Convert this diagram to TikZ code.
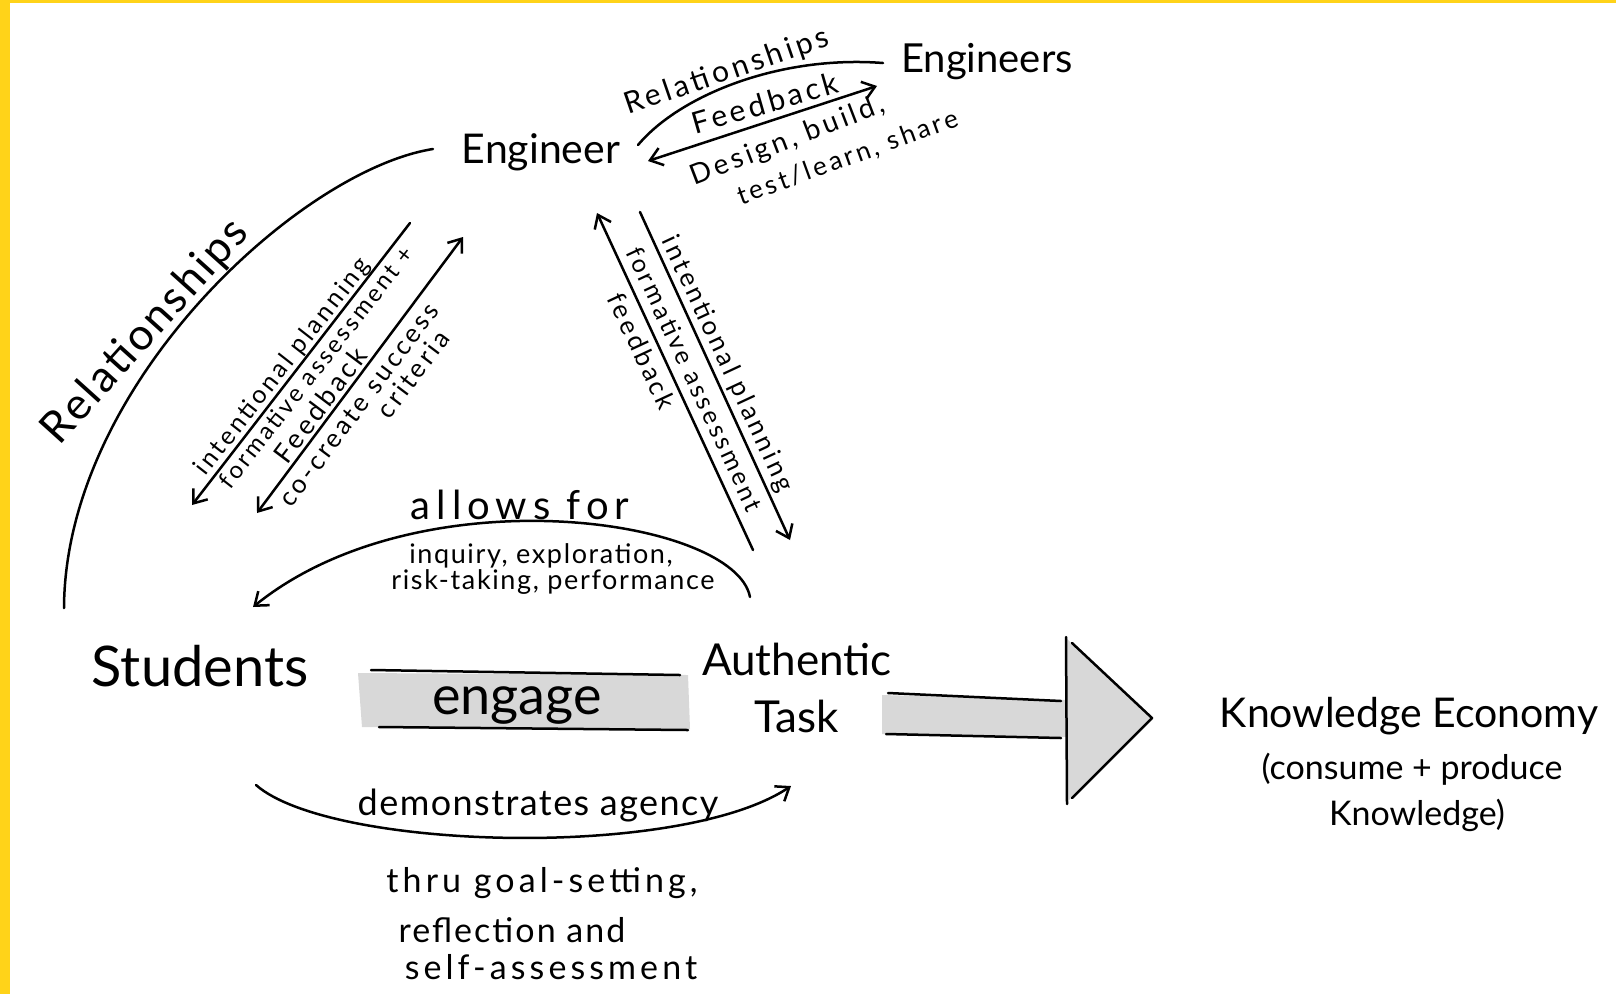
\documentclass[tikz,border=0pt]{standalone}
\usepackage{fontspec}
\setmainfont{Lato}
\newfontfamily\hand[LetterSpace=12]{Lato}
\newfontfamily\handB[LetterSpace=6]{Lato}
\usetikzlibrary{arrows.meta}
\definecolor{framey}{RGB}{255,211,25}
\definecolor{pencil}{RGB}{216,216,216}
\newcommand\fsz[1]{\fontsize{#1}{#1}\selectfont}
\begin{document}
\begin{tikzpicture}[x=1pt,y=-1pt,
  ink/.style={draw=black,line width=2.5pt,line cap=round,line join=round},
  tipE/.style={-{Straight Barb[length=12pt,width=18pt]}},
  tipB/.style={{Straight Barb[length=12pt,width=18pt]}-{Straight Barb[length=12pt,width=18pt]}},
  lbl/.style={inner sep=0pt,text=black},
  hw/.style={lbl,font=\hand\fsz{#1}},
  hwb/.style={lbl,font=\handB\fsz{#1}}]
\useasboundingbox (0,0) rectangle (1616,994);
\fill[white] (0,0) rectangle (1616,994);
\fill[framey] (0,0) rectangle (10,994);
\fill[framey] (0,0) rectangle (1616,3);

% main nodes
\node[lbl,font=\fsz{41}] (eng) at (541,152) {Engineer};
\node[lbl,font=\fsz{40}] (engs) at (987,62) {Engineers};
\node[lbl,font=\fsz{56}] (stu) at (200,666) {Students};
\node[lbl,font=\fsz{44},align=center] (task) at (797,688) {Authentic\\[13pt]Task};
\node[lbl,font=\fsz{41}] (ke1) at (1409,716) {Knowledge Economy};
\node[lbl,font=\fsz{34}] (ke2) at (1412,769) {(consume + produce};
\node[lbl,font=\fsz{34}] (ke3) at (1417,815) {Knowledge)};

% engage band
\fill[pencil] (358,673) -- (688,675) -- (690,729) -- (362,727) -- cycle;
\draw[ink] (371,670) -- (680,675);
\draw[ink] (379,727) -- (688,730);
\node[lbl,font=\fsz{54}] (engage) at (517,705) {engage};

% big shaded arrow to Knowledge Economy
\coordinate (shA) at (888,693);
\coordinate (tipK) at (1152,718);
\fill[pencil] (882,695) -- (1067,700) -- (1067,639) -- (tipK) -- (1067,802) -- (1067,737) -- (882,734) -- cycle;
\draw[ink] (shA) -- (1061,701);
\draw[ink] (886,734) -- (1061,738);
\draw[ink] (1066,637) -- (1067,804);
\draw[ink] (1072,643) -- (tipK) -- (1072,798);

% Engineer <-> Engineers
\coordinate (rA) at (638,145);
\coordinate (rB) at (883,63);
\draw[ink] (rA) .. controls (680,95) and (780,55) .. (rB);
\node[hw=30,rotate=19] (rel1) at (727,72) {Relationships};
\coordinate (fA) at (877,86);
\coordinate (fB) at (648,161);
\draw[ink,tipB] (fA) -- (fB);
\node[hw=30,rotate=16] (fb1) at (765,103) {Feedback};
\node[hw=28,rotate=21] (des1) at (788,141) {Design, build,};
\node[hw=26,rotate=20] (des2) at (848,158) {test/learn, share};

% Engineer - Students relationships arc
\coordinate (bA) at (433,149);
\coordinate (bB) at (64,608);
\draw[ink] (bA) .. controls (300,170) and (65,385) .. (bB);
\node[lbl,font={\addfontfeature{LetterSpace=6}\fsz{44}},rotate=48] (rel2) at (146,332) {Relationships};

% Engineer -> Students
\coordinate (lA) at (410,223);
\coordinate (lB) at (192,505);
\draw[ink,tipE] (lA) -- (lB);
\node[hw=25,rotate=52] (ip1) at (283,367) {intentional planning};
\node[hw=24,rotate=52] (fa1) at (316,367) {formative assessment +};

% Engineer <-> Students (feedback)
\coordinate (dA) at (463,237);
\coordinate (dB) at (257,513);
\draw[ink,tipB] (dA) -- (dB);
\node[hw=27,rotate=53] (fb2) at (320,405) {Feedback};
\node[hw=26,rotate=53] (cc1) at (359,405) {co-create success};
\node[hw=26,rotate=53] (cc2) at (413,374) {criteria};

% Engineer <-> Authentic Task
\coordinate (tA) at (753,550);
\coordinate (tB) at (597,213);
\draw[ink,tipE] (tA) -- (tB);
\coordinate (uA) at (640,212);
\coordinate (uB) at (790,540);
\draw[ink,tipE] (uA) -- (uB);
\node[hw=26,rotate=-65] (ip2) at (727,364) {intentional planning};
\node[hw=25,rotate=-65] (fa2) at (695,379) {formative assessment};
\node[hw=26,rotate=-65] (fb3) at (642,351) {feedback};

% allows for
\coordinate (aA) at (750,597);
\coordinate (aB) at (253,607);
\draw[ink,tipE] (aA) .. controls (735,518) and (420,472) .. (aB);
\node[lbl,font={\addfontfeature{LetterSpace=15}\fsz{40}}] (allow) at (520,505) {allows for};
\node[hwb=27] (inq) at (541,556) {inquiry, exploration,};
\node[hwb=27] (risk) at (553,582) {risk-taking, performance};

% demonstrates agency
\coordinate (gA) at (256,785);
\coordinate (gB) at (791,786);
\draw[ink,tipE] (gA) .. controls (330,850) and (680,860) .. (gB);
\node[lbl,font={\addfontfeature{LetterSpace=4}\fsz{36}}] (dem) at (538,806) {demonstrates agency};
\node[hw=34] (thru) at (542,883) {thru goal-setting,};
\node[hwb=34] (refl) at (512,930) {reflection and};
\node[hw=34] (self) at (551,967) {self-assessment};
\end{tikzpicture}
\end{document}
